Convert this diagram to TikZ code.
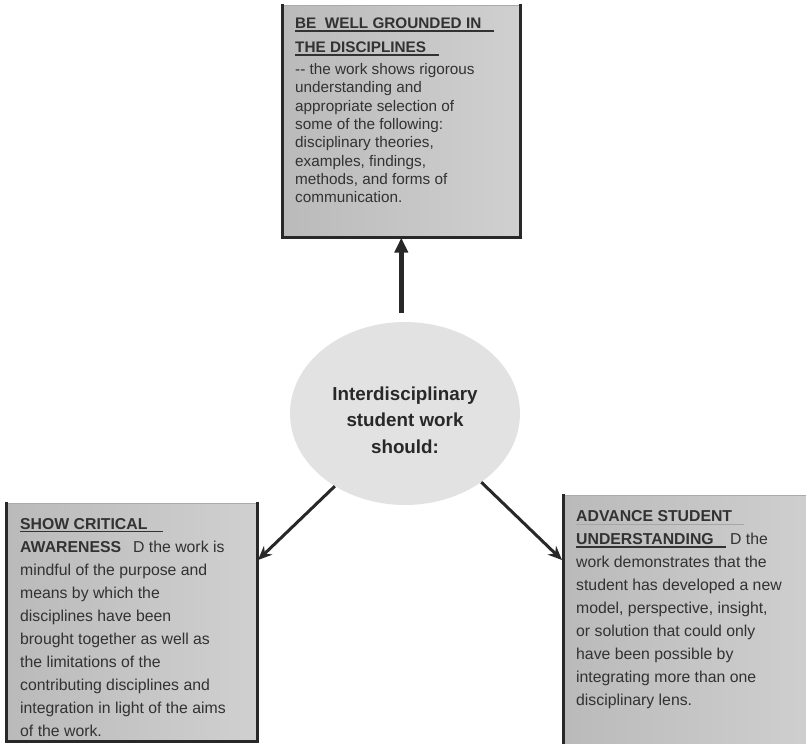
\documentclass[tikz,border=0pt]{standalone}
\usepackage{fontspec}
\setmainfont{Liberation Sans}
\usetikzlibrary{shapes.geometric,arrows.meta}
\definecolor{boxleft}{RGB}{186,186,186}
\definecolor{boxright}{RGB}{208,208,208}
\definecolor{edgedark}{RGB}{40,40,40}
\definecolor{edgelight}{RGB}{170,170,170}
\definecolor{txt}{RGB}{50,50,50}
\definecolor{ellfill}{RGB}{226,226,226}
\newcommand\ulx[2]{\setbox0\hbox{#1\hspace{#2}}\rlap{\rule[-3.2pt]{\wd0}{1.3pt}}#1\hspace{#2}}
\newcommand\ulxl[2]{\setbox0\hbox{#1\hspace{#2}}\rlap{\textcolor{gray!70}{\rule[-3.2pt]{\wd0}{0.8pt}}}#1\hspace{#2}}
\tikzset{
  panel/.style={rectangle, draw=edgelight, line width=0.6pt, inner sep=0pt,
    left color=boxleft, right color=boxright, anchor=north west},
  darkedge/.style={draw=edgedark, line width=3pt, line cap=rect},
  bodytext/.style={text=txt, align=left, inner sep=0pt, anchor=base west},
  conn/.style={draw=edgedark, line width=3pt, -{Stealth[length=14pt,width=12pt]}},
  bigconn/.style={draw=edgedark, line width=4.5pt, -{Triangle[length=15pt,width=13pt]}}
}
\begin{document}
\begin{tikzpicture}[x=1pt,y=-1pt]
\useasboundingbox (0,0) rectangle (806,744);
% panels
\node[panel, minimum width=238pt, minimum height=232pt] (top) at (282,5) {};
\node[panel, minimum width=251pt, minimum height=238pt] (left) at (6,503) {};
\node[panel, minimum width=260pt, minimum height=260pt] (right) at (563,495) {};
\draw[darkedge] (top.north west) -- (top.south west) -- (top.south east) -- (top.north east);
\draw[darkedge] (left.north west) -- (left.south west) -- (left.south east) -- (left.north east);
\draw[darkedge] (right.north west) -- (right.south west);
% ellipse
\node[ellipse, fill=ellfill, minimum width=230pt, minimum height=183pt, inner sep=0pt] (ell) at (405,413.5) {};
\node[text=edgedark, font=\bfseries\fontsize{18.8}{26.5}\selectfont, align=center, inner sep=0pt, anchor=base] (elltext) at (405,453)
  {Interdisciplinary\\student work\\should:};
% texts (anchored at the baseline of the last line)
\node[bodytext, font=\fontsize{15.3}{18.3}\selectfont] (toptext) at (295,202.6) {%
\textbf{\ulx{BE\ \ WELL GROUNDED IN}{13pt}}\\[5.7pt]
\textbf{\ulx{THE DISCIPLINES}{13pt}}\\[3.9pt]
{-}{-} the work shows rigorous\\
understanding and\\
appropriate selection of\\
some of the following:\\
disciplinary theories,\\
examples, findings,\\
methods, and forms of\\
communication.};
\node[bodytext, font=\fontsize{15.8}{23}\selectfont] (lefttext) at (20,736) {%
\textbf{\ulx{SHOW CRITICAL}{16pt}}\\
\textbf{AWARENESS}\hspace{12pt}D the work is\\
mindful of the purpose and\\
means by which the\\
disciplines have been\\
brought together as well as\\
the limitations of the\\
contributing disciplines and\\
integration in light of the aims\\
of the work.};
\node[bodytext, font=\fontsize{15.8}{23}\selectfont] (righttext) at (576,705.5) {%
\textbf{\ulxl{ADVANCE STUDENT}{12pt}}\\
\textbf{\ulx{UNDERSTANDING}{12pt}} D the\\
work demonstrates that the\\
student has developed a new\\
model, perspective, insight,\\
or solution that could only\\
have been possible by\\
integrating more than one\\
disciplinary lens.};
% connectors
\coordinate (ltip) at (258,560);
\coordinate (rtip) at (562,560);
\draw[bigconn] ([yshift=9pt]ell.north -| top.south) -- (top.south);
\draw[conn] (ell.-134) -- (ltip);
\draw[conn] (ell.-42) -- (rtip);
\end{tikzpicture}
\end{document}
